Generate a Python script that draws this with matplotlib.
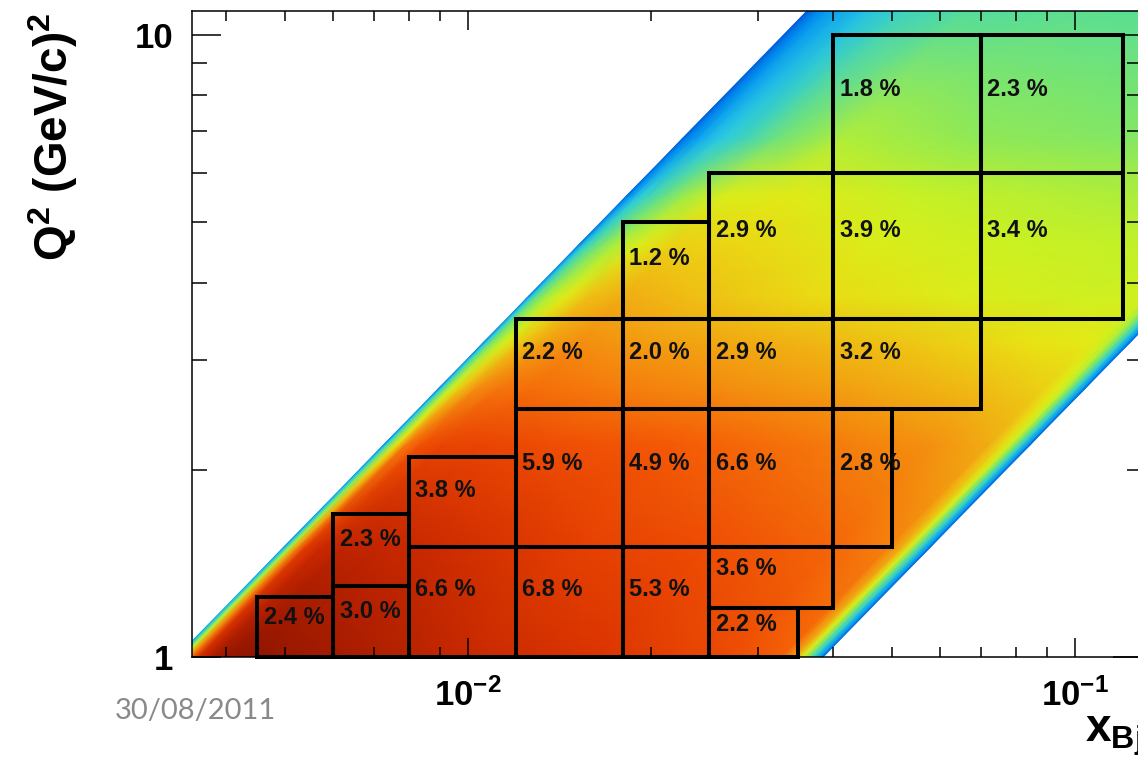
import numpy as np
import matplotlib
matplotlib.use("Agg")
import matplotlib.pyplot as plt
from matplotlib.colors import LinearSegmentedColormap, Normalize
from matplotlib.patches import Rectangle
from matplotlib.ticker import LogLocator, NullFormatter

# ---------------------------------------------------------------------------
# Kinematic coverage: event-density level sampled on nodes of Q^2 and Q^2/x
# (Q^2/x is constant along the inelasticity cuts that bound the band).
# ---------------------------------------------------------------------------
q2_nodes = [0.95, 1.5, 2.2, 2.7, 3.2, 3.8, 4.6, 5.5, 6.8, 11.5]
ratio_nodes = [26.0, 26.3, 26.9, 27.4, 28.1, 29.0, 30.5, 37.5, 61.0, 100.0, 164.0,
               210.0, 240.0, 262.0, 278.0, 288.0, 295.0, 300.0, 302.0]
density_level = [
    [0.05, 0.10, 0.20, 0.32, 0.50, 0.66, 0.77, 0.81, 0.86, 0.90, 0.95,
     0.97, 0.98, 0.95, 0.88, 0.70, 0.45, 0.22, 0.12],
    [0.05, 0.10, 0.20, 0.32, 0.50, 0.64, 0.71, 0.75, 0.80, 0.83, 0.88,
     0.90, 0.91, 0.89, 0.84, 0.68, 0.42, 0.20, 0.10],
    [0.05, 0.10, 0.20, 0.32, 0.48, 0.57, 0.64, 0.68, 0.73, 0.77, 0.80,
     0.82, 0.82, 0.79, 0.72, 0.55, 0.35, 0.18, 0.08],
    [0.05, 0.10, 0.20, 0.31, 0.45, 0.53, 0.58, 0.61, 0.655, 0.69, 0.72,
     0.74, 0.73, 0.69, 0.60, 0.48, 0.33, 0.17, 0.07],
    [0.05, 0.10, 0.19, 0.30, 0.42, 0.49, 0.53, 0.55, 0.60, 0.635, 0.665,
     0.69, 0.66, 0.60, 0.50, 0.40, 0.30, 0.17, 0.07],
    [0.05, 0.10, 0.19, 0.29, 0.40, 0.46, 0.48, 0.48, 0.51, 0.56, 0.61,
     0.64, 0.61, 0.52, 0.43, 0.35, 0.27, 0.15, 0.07],
    [0.05, 0.10, 0.18, 0.27, 0.37, 0.42, 0.44, 0.45, 0.47, 0.51, 0.57,
     0.58, 0.51, 0.42, 0.33, 0.26, 0.19, 0.12, 0.06],
    [0.05, 0.09, 0.17, 0.25, 0.33, 0.38, 0.40, 0.41, 0.43, 0.46, 0.52,
     0.50, 0.40, 0.30, 0.22, 0.17, 0.12, 0.08, 0.05],
    [0.04, 0.08, 0.15, 0.22, 0.28, 0.32, 0.34, 0.35, 0.35, 0.37, 0.42,
     0.32, 0.22, 0.17, 0.13, 0.10, 0.08, 0.06, 0.04],
    [0.04, 0.07, 0.12, 0.17, 0.21, 0.24, 0.26, 0.27, 0.27, 0.27, 0.25,
     0.20, 0.15, 0.12, 0.10, 0.08, 0.06, 0.04, 0.03],
]

# ---------------------------------------------------------------------------
# Analysis bins (x_Bj and Q^2 edges) with their systematic contribution in %
# ---------------------------------------------------------------------------
bin_x_lo = [0.0045, 0.006, 0.006, 0.008, 0.008, 0.012, 0.012, 0.012, 0.018, 0.018, 0.018, 0.018,
            0.025, 0.025, 0.025, 0.025, 0.025, 0.04, 0.04, 0.04, 0.04, 0.07, 0.07]
bin_x_hi = [0.006, 0.008, 0.008, 0.012, 0.012, 0.018, 0.018, 0.018, 0.025, 0.025, 0.025, 0.025,
            0.035, 0.04, 0.04, 0.04, 0.04, 0.05, 0.07, 0.07, 0.07, 0.12, 0.12]
bin_q2_lo = [1.0, 1.0, 1.3, 1.0, 1.5, 1.0, 1.5, 2.5, 1.0, 1.5, 2.5, 3.5,
             1.0, 1.2, 1.5, 2.5, 3.5, 1.5, 2.5, 3.5, 6.0, 3.5, 6.0]
bin_q2_hi = [1.25, 1.3, 1.7, 1.5, 2.1, 1.5, 2.5, 3.5, 1.5, 2.5, 3.5, 5.0,
             1.2, 1.5, 2.5, 3.5, 6.0, 2.5, 3.5, 6.0, 10.0, 6.0, 10.0]
bin_percent = [2.4, 3.0, 2.3, 6.6, 3.8, 6.8, 5.9, 2.2, 5.3, 4.9, 2.0, 1.2,
               2.2, 3.6, 6.6, 2.9, 2.9, 2.8, 3.2, 3.9, 1.8, 3.4, 2.3]

x_ticks = [0.01, 0.1]
x_tick_labels = [r"$\mathdefault{10^{-2}}$", r"$\mathdefault{10^{-1}}$"]
y_ticks = [1, 10]
y_tick_labels = ["1", "10"]

# ---------------------------------------------------------------------------
# Style
# ---------------------------------------------------------------------------
plt.rcParams["font.family"] = ["Liberation Sans", "DejaVu Sans"]
plt.rcParams["font.weight"] = "bold"
plt.rcParams["mathtext.fontset"] = "custom"
plt.rcParams["mathtext.rm"] = "Liberation Sans:bold"
plt.rcParams["mathtext.it"] = "Liberation Sans:bold"
plt.rcParams["mathtext.bf"] = "Liberation Sans:bold"
plt.rcParams["mathtext.sf"] = "Liberation Sans:bold"

palette = LinearSegmentedColormap.from_list("kinmap", [
    (0.00, (0 / 255, 60 / 255, 200 / 255)),
    (0.08, (0 / 255, 140 / 255, 240 / 255)),
    (0.16, (40 / 255, 200 / 255, 230 / 255)),
    (0.26, (80 / 255, 220 / 255, 160 / 255)),
    (0.36, (140 / 255, 232 / 255, 90 / 255)),
    (0.46, (200 / 255, 242 / 255, 35 / 255)),
    (0.54, (232 / 255, 232 / 255, 20 / 255)),
    (0.62, (240 / 255, 185 / 255, 20 / 255)),
    (0.70, (245 / 255, 135 / 255, 15 / 255)),
    (0.78, (245 / 255, 85 / 255, 5 / 255)),
    (0.86, (220 / 255, 50 / 255, 0 / 255)),
    (0.93, (180 / 255, 30 / 255, 0 / 255)),
    (1.00, (120 / 255, 15 / 255, 0 / 255)),
])

W, H = 1138, 757
fig = plt.figure(figsize=(W / 100, H / 100), dpi=100)
ax = fig.add_axes([192 / W, 1 - 657 / H, 950 / W, 646 / H])
ax.set_xscale("log")
ax.set_yscale("log")
ax.set_xlim(0.00351, 0.129)
ax.set_ylim(1.0, 10.93)

# density map of the accepted region
q2_grid = np.array(q2_nodes)[:, None] * np.ones(len(ratio_nodes))[None, :]
x_grid = q2_grid / np.array(ratio_nodes)[None, :]
ax.pcolormesh(x_grid, q2_grid, np.array(density_level), shading="gouraud",
              cmap=palette, norm=Normalize(0.0, 1.0), zorder=1)

# bin boxes and their labels
for xl, xh, ql, qh, val in zip(bin_x_lo, bin_x_hi, bin_q2_lo, bin_q2_hi, bin_percent):
    ax.add_patch(Rectangle((xl, ql), xh - xl, qh - ql, fill=False, edgecolor="black",
                           linewidth=2.9, joinstyle="miter", clip_on=False, zorder=3))
    lt, lb = np.log10(qh), np.log10(ql)
    ly = 10 ** (lt - 0.43 * (lt - lb))
    ax.annotate(f"{val:.1f} %", xy=(xl, ly), xytext=(4.5, 3.5), textcoords="offset points",
                ha="left", va="center", fontsize=17, fontweight="bold", color="#111111",
                zorder=4)

# axes, ticks
ax.set_xticks(x_ticks, labels=x_tick_labels)
ax.set_yticks(y_ticks, labels=y_tick_labels)
ax.xaxis.set_minor_locator(LogLocator(base=10, subs=np.arange(2, 10)))
ax.yaxis.set_minor_locator(LogLocator(base=10, subs=np.arange(2, 10)))
ax.xaxis.set_minor_formatter(NullFormatter())
ax.yaxis.set_minor_formatter(NullFormatter())
ax.tick_params(which="both", direction="in", top=True, right=True, width=1.1,
               color="black", labelsize=25)
ax.tick_params(axis="x", which="major", length=13.7, pad=15)
ax.tick_params(axis="x", which="minor", length=7.2)
ax.tick_params(axis="y", which="major", length=20.9, pad=13.5)
ax.tick_params(axis="y", which="minor", length=10.8)
for sp in ax.spines.values():
    sp.set_linewidth(1.1)
    sp.set_zorder(5)

# axis titles
fig.text(53 / W, 1 - 13 / H, r"$\mathdefault{Q^{2}\ (GeV/c)^{2}}$", rotation=90,
         ha="center", va="top", fontsize=33)
fig.text(1085 / W, 1 - 742 / H, r"$\mathdefault{x_{Bj}}$", ha="left", va="baseline",
         fontsize=33)

# date footer
fig.text(115 / W, 1 - 711 / H, "30/08/2011", ha="left", va="center", fontsize=21,
         fontweight="normal", family=["Lato", "DejaVu Sans"], color="#898989")

fig.savefig("out.png", dpi=100)
